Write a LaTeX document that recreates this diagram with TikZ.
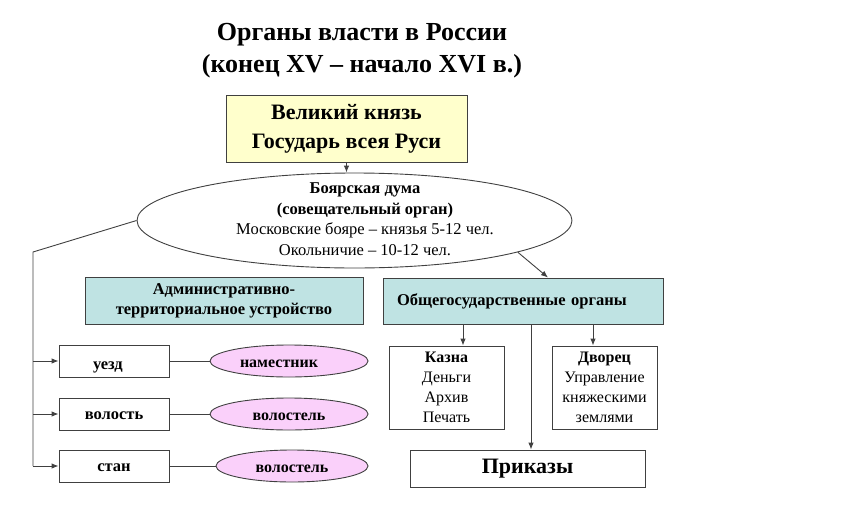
\documentclass[tikz,border=0pt]{standalone}
\usepackage{fontspec}
\setmainfont{Liberation Serif}
\usetikzlibrary{arrows.meta,shapes.geometric,calc}
\definecolor{lineg}{HTML}{404040}
\definecolor{yel}{HTML}{FFFFCC}
\definecolor{teal}{HTML}{BFE3E3}
\definecolor{pink}{HTML}{FAD0FA}
\tikzset{
  box/.style={draw=lineg,line width=0.9pt,inner sep=0pt,align=center},
  unit/.style={draw=lineg,line width=0.9pt,inner sep=0pt,minimum width=110pt,minimum height=32pt,font=\fontsize{16.5}{20}\selectfont\bfseries,text depth=0pt},
  oval/.style={ellipse,draw=lineg,line width=0.9pt,inner sep=0pt,fill=pink,font=\fontsize{16}{18}\selectfont\bfseries,text height=13pt,text depth=0pt},
  lbl/.style={font=\fontsize{16.5}{20}\selectfont\bfseries},
  conn/.style={draw=lineg,line width=0.9pt},
  arr/.style={conn,-{Latex[length=7pt,width=5.5pt]}},
}
\begin{document}
\begin{tikzpicture}[x=1pt,y=-1pt]
\useasboundingbox (0,0) rectangle (856,506);
% title
\node[font=\fontsize{26}{32}\selectfont\bfseries,align=center] (title) at (362,51) {Органы власти в России\\(конец XV – начало XVI в.)};
% grand prince
\node[box,fill=yel,minimum width=241pt,minimum height=67pt,font=\fontsize{22}{29}\selectfont\bfseries] (gk) at (346.5,128.5) {Великий князь\\Государь всея Руси};
% boyar duma
\node[ellipse,draw=lineg,line width=0.9pt,minimum width=435pt,minimum height=95pt,inner sep=0pt] (duma) at (354.5,220.5) {};
\node[align=center,font=\fontsize{16.5}{20.5}\selectfont] (dumatext) at (365,219) {\textbf{Боярская дума}\\\textbf{(совещательный орган)}\\Московские бояре – князья 5-12 чел.\\Окольничие – 10-12 чел.};
% second level
\node[box,fill=teal,minimum width=278pt,minimum height=47pt,lbl] (adm) at (224,301) {Административно-\\территориальное устройство};
\node[box,fill=teal,minimum width=280pt,minimum height=46pt,lbl,text width=252pt,align=left] (obs) at (523,301) {Общегосударственные органы};
% territorial units
\node[unit,text height=17pt] (uezd) at (114,361) {\makebox[98pt][l]{\hspace*{28pt}уезд}};
\node[unit,text height=10pt] (volost) at (114,414) {волость};
\node[unit,text height=10pt] (stan) at (114,466) {стан};
\node[oval,minimum width=158pt,minimum height=32pt] (nam) at (289,361) {\makebox[98pt][l]{наместник}};
\node[oval,minimum width=158pt,minimum height=32pt] (vol1) at (289,414) {волостель};
\node[oval,minimum width=152pt,minimum height=32pt] (vol2) at (292,466) {волостель};
% state organs
\node[box,minimum width=115pt,minimum height=83pt,font=\fontsize{16}{20}\selectfont] (kazna) at (446.5,387.5) {\textbf{Казна}\\Деньги\\Архив\\Печать};
\node[box,minimum width=105pt,minimum height=83pt,font=\fontsize{16}{20}\selectfont] (dvor) at (604.5,387.5) {\textbf{Дворец}\\Управление\\княжескими\\землями};
\node[box,minimum width=235pt,minimum height=37pt,font=\fontsize{22}{26}\selectfont\bfseries] (prik) at (527.5,468.5) {Приказы};
% connectors
\draw[arr] (gk.south) -- (gk.south |- duma.north);
\coordinate (corner) at (33,252);
\draw[conn] (duma.west) -- (corner) -- (corner |- stan.west);
\draw[arr] (corner |- uezd.west) -- (uezd.west);
\draw[arr] (corner |- volost.west) -- (volost.west);
\draw[arr] (corner |- stan.west) -- (stan.west);
\draw[conn] (uezd.east) -- (nam.west);
\draw[conn] (volost.east) -- (vol1.west);
\draw[conn] (stan.east) -- (vol2.west);
\coordinate (obsin) at ($(obs.north)+(25,0)$);
\draw[arr] (duma.-11.5) -- (obsin);
\coordinate (a1) at ($(obs.south)+(-60,0)$);
\coordinate (a2) at ($(obs.south)+(70,0)$);
\coordinate (a3) at ($(obs.south)+(8,0)$);
\draw[arr] (a1) -- (a1 |- kazna.north);
\draw[arr] (a2) -- (a2 |- dvor.north);
\draw[arr] (a3) -- (a3 |- prik.north);
\end{tikzpicture}
\end{document}
